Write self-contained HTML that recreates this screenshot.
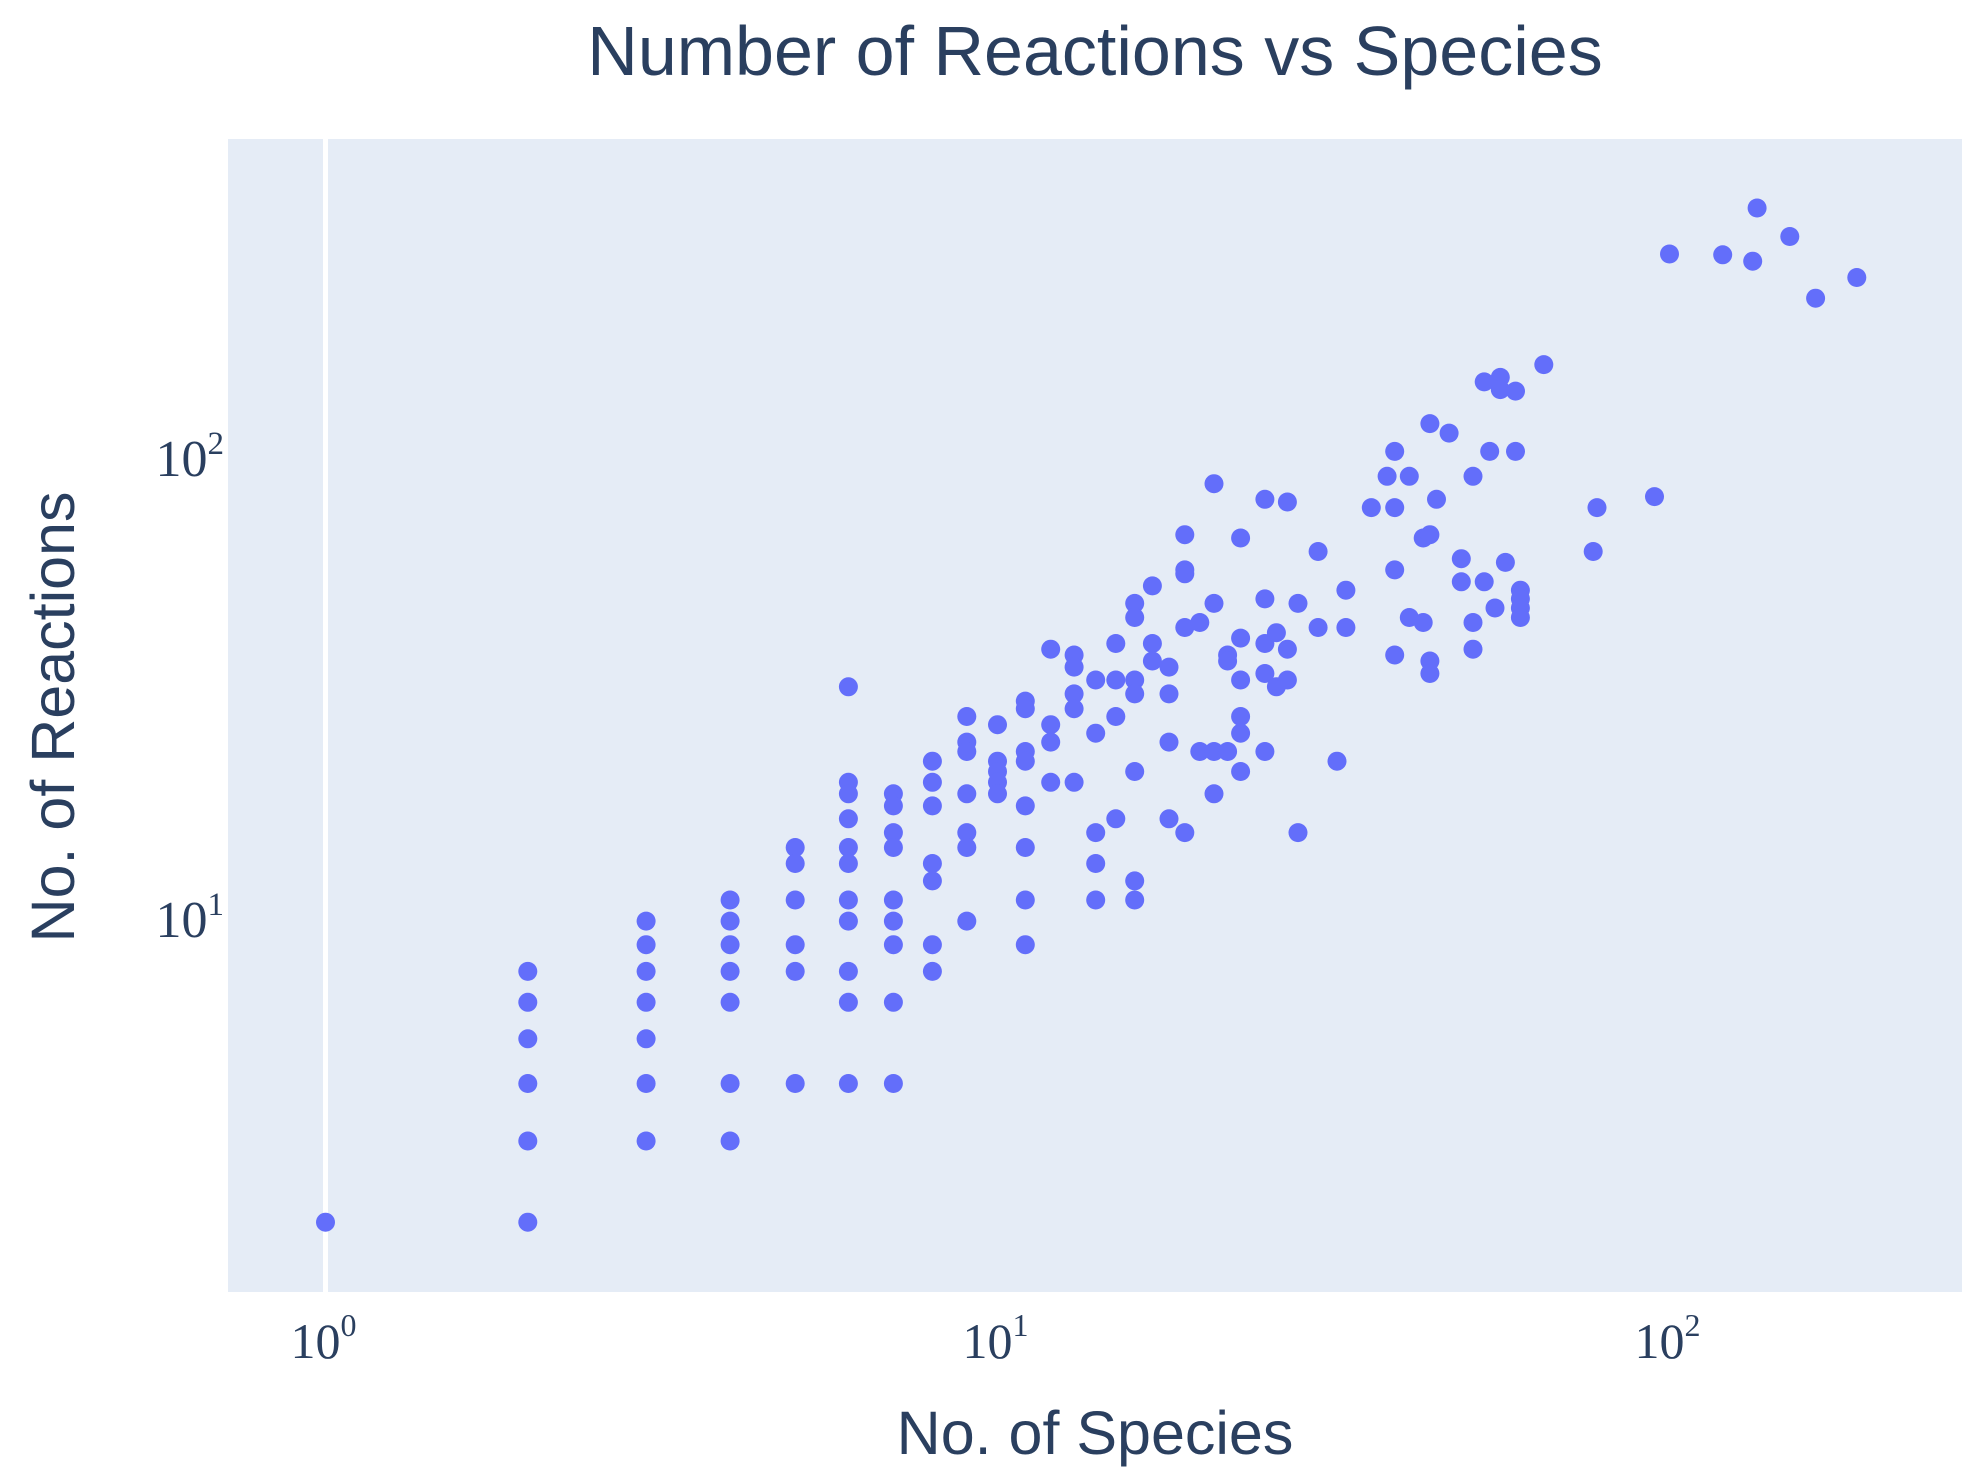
<!DOCTYPE html>
<html><head><meta charset="utf-8"><style>
html,body{margin:0;padding:0;background:#fff;}
svg{display:block;}
</style></head><body>
<svg id="chart" width="1972" height="1476" viewBox="0 0 1972 1476" xmlns="http://www.w3.org/2000/svg">
<rect x="0" y="0" width="1972" height="1476" fill="#ffffff"/>
<rect x="228" y="139" width="1734" height="1153" fill="#e5ecf6"/>
<line x1="325.5" y1="139" x2="325.5" y2="1292" stroke="#ffffff" stroke-width="5"/>
<g id="marks"></g>
<text x="1095" y="75" text-anchor="middle" font-family="Liberation Sans, sans-serif" font-size="70" fill="#2a3f5f">Number of Reactions vs Species</text>
<text x="1095" y="1454" text-anchor="middle" font-family="Liberation Sans, sans-serif" font-size="61" fill="#2a3f5f">No. of Species</text>
<text transform="translate(74,717) rotate(-90)" text-anchor="middle" font-family="Liberation Sans, sans-serif" font-size="61" fill="#2a3f5f">No. of Reactions</text>
<g id="xticks"></g>
<g id="yticks"></g>
</svg>
<script>
const xTickExps = [0, 1, 2];
const yTickExps = [1, 2];
const xValues = [
1,
2,2,2,2,2,2,
3,3,3,3,3,3,3,
4,4,4,4,4,4,4,
5,5,5,5,5,5,
6,6,6,6,6,6,6,6,6,6,6,
7,7,7,7,7,7,7,7,7,
8,8,8,8,8,8,8,
9,9,9,9,9,9,9,
10,10,10,10,10,
11,11,11,11,11,11,11,11,
12,12,12,12,
13,13,13,13,13,
14,14,14,14,14,
15,15,15,15,
16,16,16,16,16,16,16,
17,17,17,
18,18,18,18,
19,19,19,19,19,
20,20,
21,21,21,21,
22,22,22,
23,23,23,23,23,23,
25,25,25,25,25,
26,26,
27,27,27,
28,28,
30,30,
33,33,
32,
36,
38,
39,39,39,39,
41,41,
43,43,
44,44,44,44,
45,
47,
49,49,
51,51,51,
53,53,
54,
55,
56,56,
57,
59,
59,
60,60,60,60,
65,
77,78,
95,
100,120,133,135,151,165,190
];
const yValues = [
2,
7,6,5,4,3,2,
9,8,7,6,5,4,3,
10,9,8,7,6,4,3,
13,12,10,8,7,4,
29,18,17,15,13,12,10,9,7,6,4,
17,16,14,13,10,9,8,6,4,
20,18,16,12,11,8,7,
25,22,21,17,14,13,9,
24,20,19,18,17,
27,26,21,20,16,13,10,8,
35,24,22,18,
34,32,28,26,18,
30,23,14,12,10,
36,30,25,15,
44,41,30,28,19,11,10,
48,36,33,
32,28,22,15,
62,52,51,39,14,
40,21,
80,44,21,17,
34,33,21,
61,37,30,25,23,19,
74,45,36,31,21,
38,29,
73,35,30,
44,14,
57,39,
47,39,
20,
71,
83,
94,71,52,34,
83,41,
40,61,
108,62,33,31,
74,
103,
55,49,
83,40,35,
133,49,
94,
43,
136,128,
54,
94,
127,
47,45,43,41,
145,
57,71,
75,
252,251,243,317,275,202,224
];
const XL = 228, XR = 1962, YT = 139, YB = 1292;
const xPx0 = 325.5, xDecade = 672;
const yPx10 = 900, yDecade = 461;
function xScale(v){ return xPx0 + Math.log10(v) * xDecade; }
function yScale(v){ return yPx10 - (Math.log10(v) - 1) * yDecade; }
const NS = 'http://www.w3.org/2000/svg';
const marks = document.getElementById('marks');
for (let i = 0; i < xValues.length; i++) {
  const c = document.createElementNS(NS, 'circle');
  c.setAttribute('cx', xScale(xValues[i]).toFixed(1));
  c.setAttribute('cy', yScale(yValues[i]).toFixed(1));
  c.setAttribute('r', '9.5');
  c.setAttribute('fill', '#636efa');
  
  
  marks.appendChild(c);
}
const xt = document.getElementById('xticks');
xTickExps.forEach(function(e){
  const t = document.createElementNS(NS, 'text');
  t.setAttribute('x', xScale(Math.pow(10, e)) - 2);
  t.setAttribute('y', 1358);
  t.setAttribute('text-anchor', 'middle');
  t.setAttribute('font-family', 'Liberation Serif, serif');
  t.setAttribute('font-size', '50');
  t.setAttribute('fill', '#2a3f5f');
  
  
  t.innerHTML = '10<tspan font-size="32" dy="-22">' + e + '</tspan>';
  xt.appendChild(t);
});
const yt = document.getElementById('yticks');
yTickExps.forEach(function(e){
  const t = document.createElementNS(NS, 'text');
  t.setAttribute('x', 224);
  t.setAttribute('y', yScale(Math.pow(10, e)) + 37);
  t.setAttribute('text-anchor', 'end');
  t.setAttribute('font-family', 'Liberation Serif, serif');
  t.setAttribute('font-size', '52');
  t.setAttribute('fill', '#2a3f5f');
  
  
  t.innerHTML = '10<tspan font-size="33" dy="-22">' + e + '</tspan>';
  yt.appendChild(t);
});
</script>
</body></html>
